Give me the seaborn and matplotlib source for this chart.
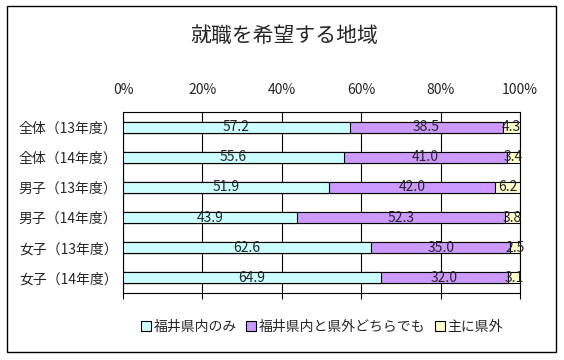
import numpy as np
import pandas as pd
import matplotlib
matplotlib.use("Agg")
import matplotlib.pyplot as plt
from matplotlib.patches import Rectangle, Patch
from matplotlib.ticker import FixedLocator, PercentFormatter
import seaborn as sns

sns.set_style("white")
plt.rcParams['font.family'] = ['Noto Sans CJK JP', 'DejaVu Sans']

# データ
groups = ['全体（13年度）', '全体（14年度）', '男子（13年度）',
          '男子（14年度）', '女子（13年度）', '女子（14年度）']
series = ['福井県内のみ', '福井県内と県外どちらでも', '主に県外']
only_fukui = [57.2, 55.6, 51.9, 43.9, 62.6, 64.9]
either = [38.5, 41.0, 42.0, 52.3, 35.0, 32.0]
outside = [4.3, 3.4, 6.2, 3.8, 2.5, 3.1]
colors = ['#ccffff', '#cc99ff', '#ffffcc']

df = pd.DataFrame({'group': groups, series[0]: only_fukui,
                   series[1]: either, series[2]: outside})
vals = df[series].to_numpy()
pct = vals / vals.sum(axis=1, keepdims=True) * 100
cum = np.cumsum(pct, axis=1)
left = cum - pct

fig = plt.figure(figsize=(5.64, 3.6), dpi=100)
ax = fig.add_axes([123 / 564, 1 - 293 / 360, 397 / 564, 181 / 360])

# 100%積み上げ: 累積値を奥から順に重ねる
for j in range(2, -1, -1):
    sns.barplot(x=cum[:, j], y=df['group'], orient='h', color=colors[j],
                width=0.37, edgecolor='black', linewidth=0.8,
                saturation=1, ax=ax, zorder=3)

for i in range(len(groups)):
    for j in range(3):
        ax.text(left[i, j] + pct[i, j] / 2, i, f'{vals[i, j]:.1f}',
                ha='center', va='center', fontsize=10, zorder=5)

ax.set_xlim(0, 100)
ax.set_ylim(len(groups) - 0.5, -0.5)
ax.set_xlabel('')
ax.set_ylabel('')
ax.xaxis.set_major_locator(FixedLocator([0, 20, 40, 60, 80, 100]))
ax.xaxis.set_major_formatter(PercentFormatter(decimals=0))
ax.tick_params(axis='x', labeltop=True, labelbottom=False, top=False,
               bottom=True, direction='out', length=4, width=0.8,
               color='black', pad=7, labelsize=10)
ax.grid(axis='x', color='black', linewidth=0.8, zorder=0)
ax.set_axisbelow(True)

ax.tick_params(axis='y', which='major', length=0, pad=4, labelsize=10)
ax.yaxis.set_minor_locator(FixedLocator(np.arange(len(groups) + 1) - 0.5))
ax.tick_params(axis='y', which='minor', direction='in', length=3,
               width=0.8, color='black')
for s in ax.spines.values():
    s.set_color('black')
    s.set_linewidth(0.8)

fig.text(284 / 564, 1 - 36 / 360, '就職を希望する地域', ha='center',
         va='center', fontsize=15)

handles = [Patch(facecolor=c, edgecolor='black', linewidth=0.8) for c in colors]
fig.legend(handles, series, loc='center', bbox_to_anchor=(322 / 564, 1 - 327 / 360),
           ncol=3, frameon=False, fontsize=10, handlelength=0.7,
           handleheight=0.7, handletextpad=0.2, columnspacing=0.7)

fig.patches.append(Rectangle((7 / 564, 1 - 352 / 360), 549 / 564, 346 / 360,
                             transform=fig.transFigure, fill=False,
                             edgecolor='black', linewidth=1))

fig.savefig('out.png', dpi=100)
